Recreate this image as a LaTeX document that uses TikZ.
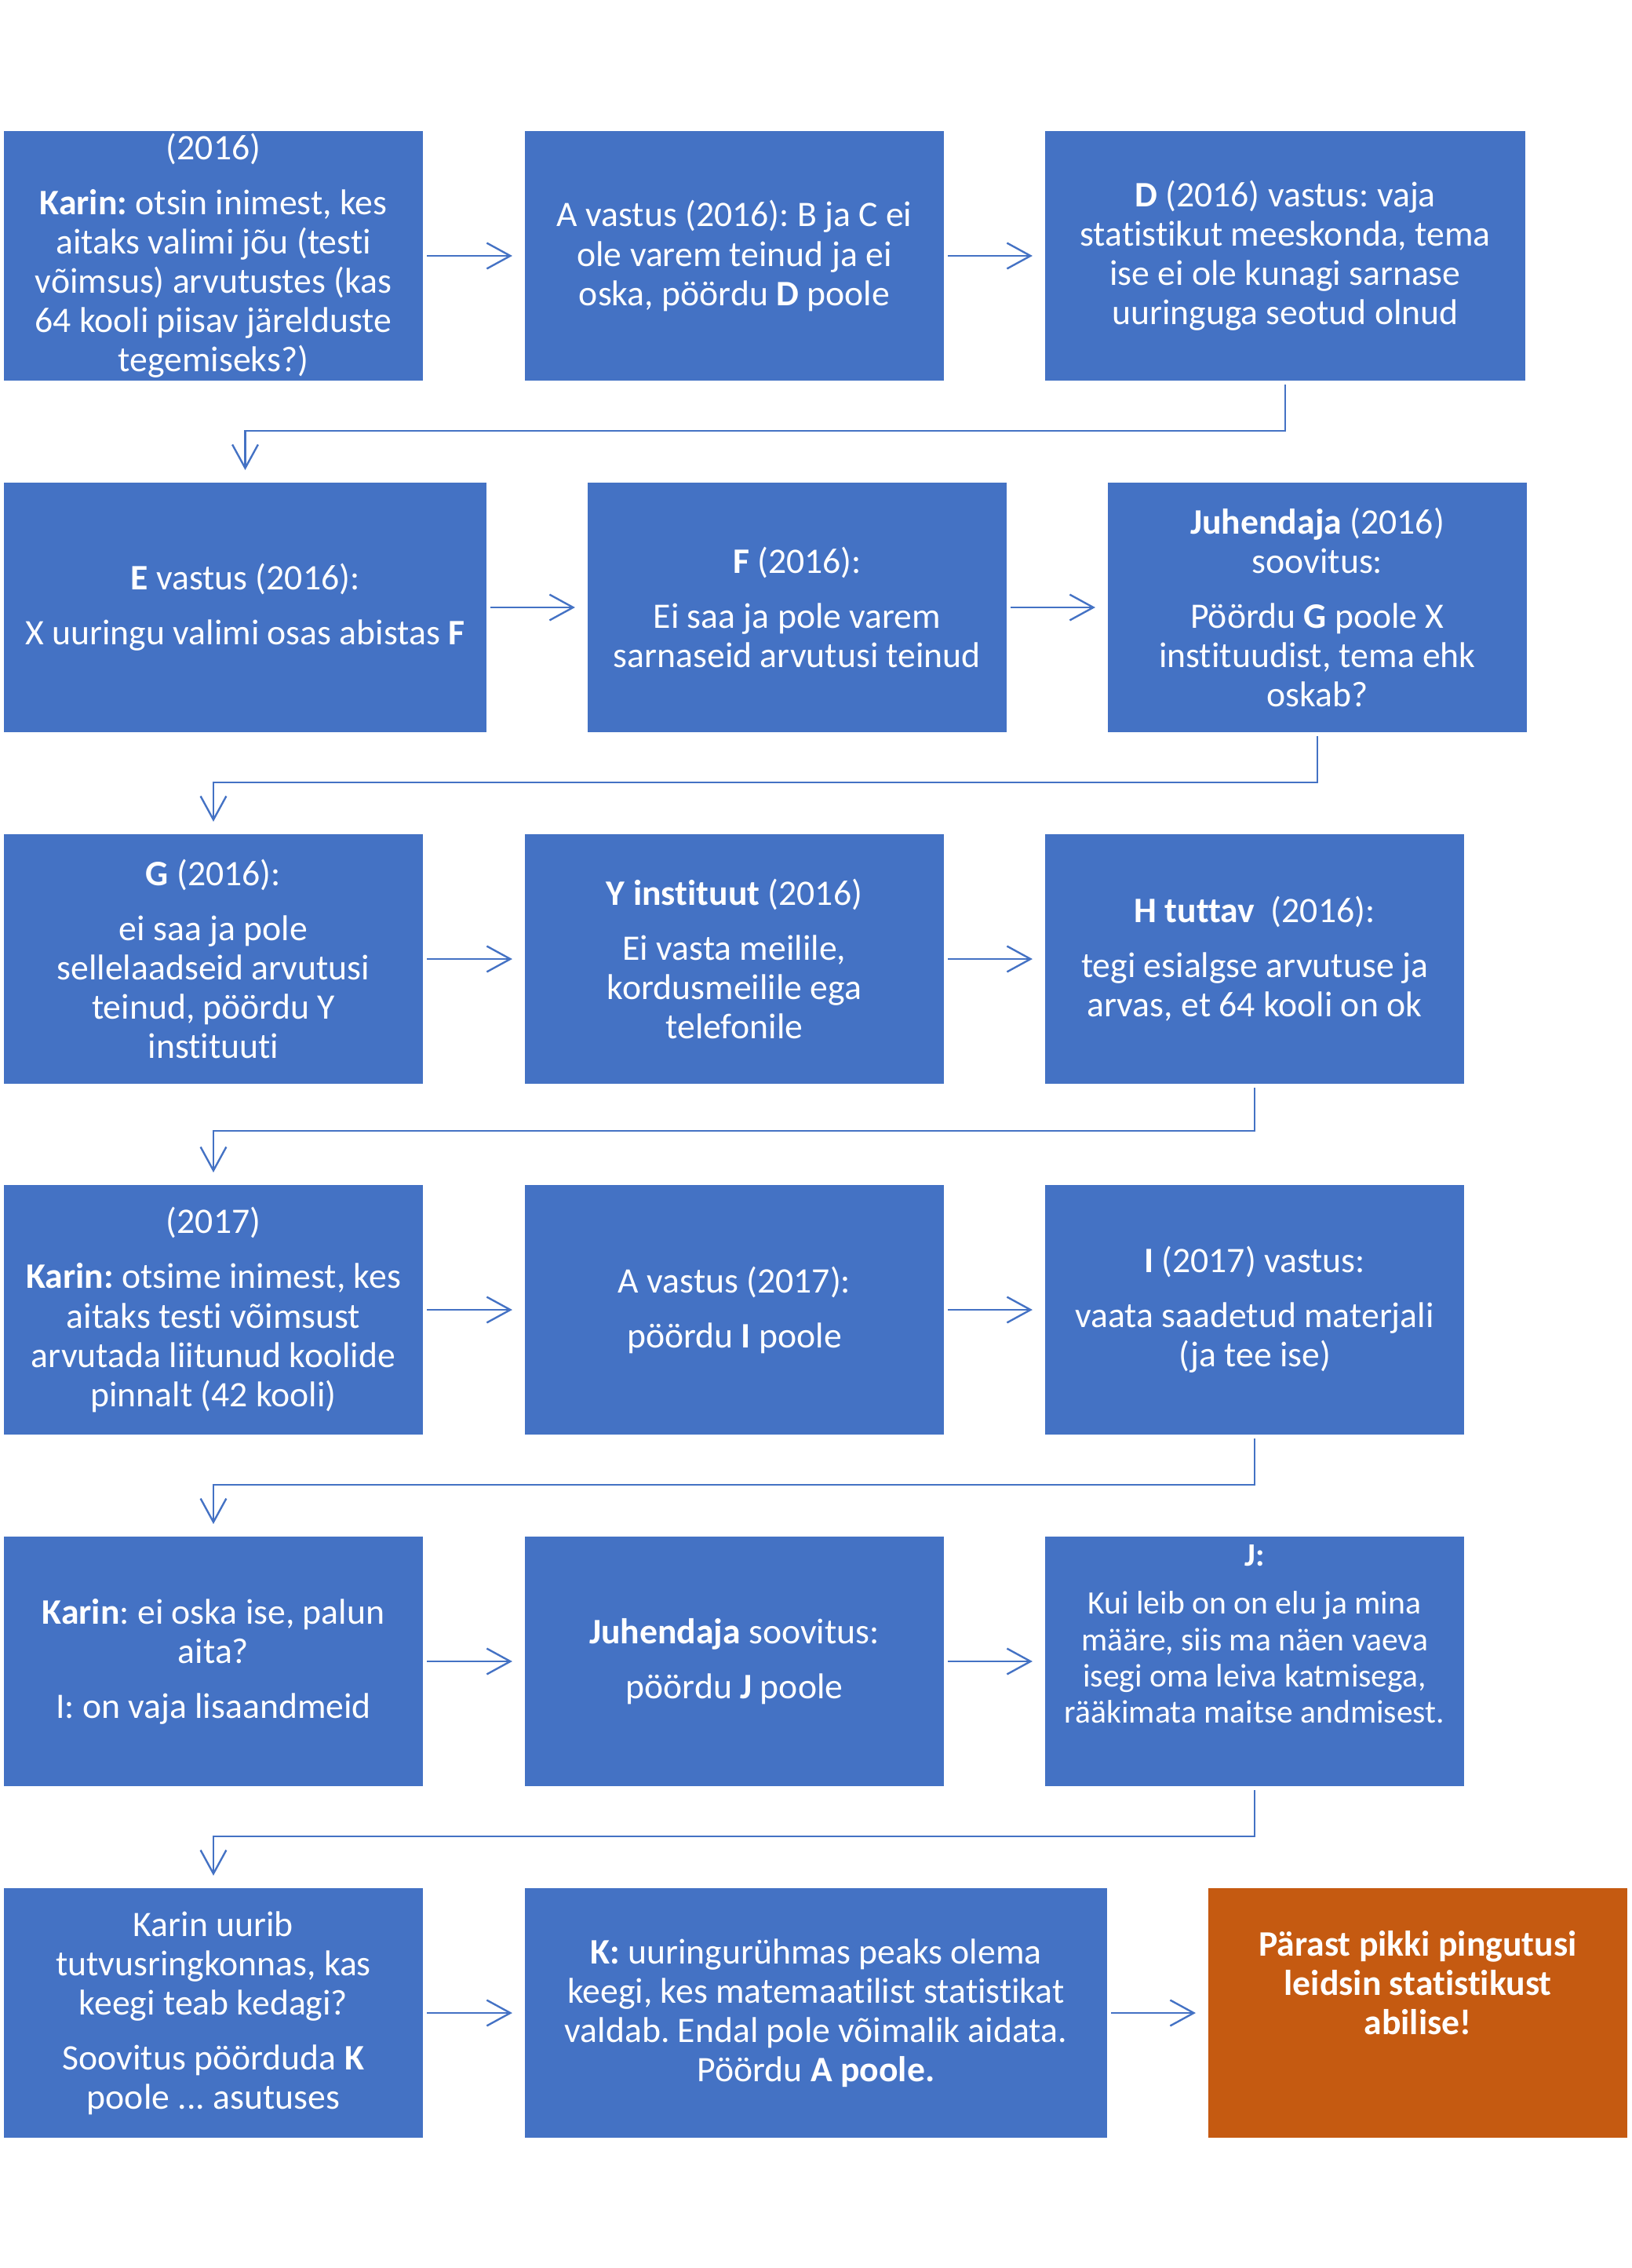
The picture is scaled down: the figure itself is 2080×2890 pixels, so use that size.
\documentclass[tikz,border=0pt]{standalone}
\usepackage{fontspec}
\setmainfont{Carlito}[Ligatures=NoCommon]
\usetikzlibrary{arrows.meta}
\definecolor{boxblue}{HTML}{4472C4}
\definecolor{boxorange}{HTML}{C55A11}
\tikzset{
    stepbox/.style = {fill=boxblue, text=white, rectangle, align=center, inner sep=0pt, outer sep=0pt, minimum width=6.675cm, minimum height=3.975cm, font=\fontsize{16.25pt}{17.8pt}\selectfont},
    endbox/.style = {stepbox, fill=boxorange, font=\fontsize{16.25pt}{17.8pt}\selectfont\bfseries},
    flow/.style = {draw=boxblue, line width=0.85pt, -{Straight Barb[length=0.375cm, width=0.41cm]}, shorten <=0.0625cm, shorten >=0.2cm},
}
\newcommand{\gap}{\\[0.25cm]}
\frenchspacing

\begin{document}
\begin{tikzpicture}[x=0.0125cm, y=-0.0125cm]
\useasboundingbox (0,0) rectangle (2080,2890);

\node[stepbox] (a1) at (272,326) {(2016)\gap
    \textbf{Karin:} otsin inimest, kes\\ aitaks valimi jõu (testi\\ võimsus) arvutustes (kas\\ 64 kooli piisav järelduste\\ tegemiseks?)};
\node[stepbox] (a2) at (936,326) {A vastus (2016): B ja C ei\\ ole varem teinud ja ei\\ oska, pöördu \textbf{D} poole};
\node[stepbox, minimum width=7.65cm] (a3) at (1638,326) {\textbf{D} (2016) vastus: vaja\\ statistikut meeskonda, tema\\ ise ei ole kunagi sarnase\\ uuringuga seotud olnud};

\node[stepbox, minimum width=7.6875cm] (b1) at (312.5,774) {\textbf{E} vastus (2016):\gap X uuringu valimi osas abistas \textbf{F}};
\node[stepbox] (b2) at (1016,774) {\textbf{F} (2016):\gap Ei saa ja pole varem\\ sarnaseid arvutusi teinud};
\node[stepbox] (b3) at (1679,774) {\textbf{Juhendaja} (2016)\\ soovitus:\gap Pöördu \textbf{G} poole X\\ instituudist, tema ehk\\ oskab?};

\node[stepbox] (c1) at (272,1222) {\textbf{G} (2016):\gap ei saa ja pole\\ sellelaadseid arvutusi\\ teinud, pöördu Y\\ instituuti};
\node[stepbox] (c2) at (936,1222) {\textbf{Y instituut} (2016)\gap Ei vasta meilile,\\ kordusmeilile ega\\ telefonile};
\node[stepbox] (c3) at (1599,1222) {\textbf{H tuttav}\ \ (2016):\gap tegi esialgse arvutuse ja\\ arvas, et 64 kooli on ok};

\node[stepbox] (d1) at (272,1669) {(2017)\gap \textbf{Karin:} otsime inimest, kes\\ aitaks testi võimsust\\ arvutada liitunud koolide\\ pinnalt (42 kooli)};
\node[stepbox] (d2) at (936,1669) {A vastus (2017):\gap pöördu \textbf{I} poole};
\node[stepbox] (d3) at (1599,1669) {\textbf{I} (2017) vastus:\gap vaata saadetud materjali\\ (ja tee ise)};

\node[stepbox] (e1) at (272,2117) {\textbf{Karin}: ei oska ise, palun\\ aita?\gap I: on vaja lisaandmeid};
\node[stepbox] (e2) at (936,2117) {\textbf{Juhendaja} soovitus:\gap pöördu \textbf{J} poole};
\node[stepbox, font=\fontsize{14.8pt}{16.4pt}\selectfont] (e3) at (1599,2117) {\textbf{J:}\\[0.19cm] Kui leib on on elu ja mina\\ määre, siis ma näen vaeva\\ isegi oma leiva katmisega,\\ rääkimata maitse andmisest.\\[0.3cm]\mbox{}};

\node[stepbox] (f1) at (272,2565) {Karin uurib\\ tutvusringkonnas, kas\\ keegi teab kedagi?\gap Soovitus pöörduda \textbf{K}\\ poole ... asutuses};
\node[stepbox, minimum width=9.275cm] (f2) at (1040,2565) {\textbf{K:} uuringurühmas peaks olema\\ keegi, kes matemaatilist statistikat\\ valdab. Endal pole võimalik aidata.\\ Pöördu \textbf{A poole.}};
\node[endbox] (f3) at (1807,2565) {Pärast pikki pingutusi\\ leidsin statistikust\\ abilise!\\[0.33cm]\mbox{}};

\draw[flow] (a1) -- (a2);
\draw[flow] (a2) -- (a3);
\draw[flow] (a3.south) -- ++(0,64) -| (b1.north);
\draw[flow] (b1) -- (b2);
\draw[flow] (b2) -- (b3);
\draw[flow] (b3.south) -- ++(0,64) -| (c1.north);
\draw[flow] (c1) -- (c2);
\draw[flow] (c2) -- (c3);
\draw[flow] (c3.south) -- ++(0,60) -| (d1.north);
\draw[flow] (d1) -- (d2);
\draw[flow] (d2) -- (d3);
\draw[flow] (d3.south) -- ++(0,64) -| (e1.north);
\draw[flow] (e1) -- (e2);
\draw[flow] (e2) -- (e3);
\draw[flow] (e3.south) -- ++(0,64) -| (f1.north);
\draw[flow] (f1) -- (f2);
\draw[flow] (f2) -- (f3);
\end{tikzpicture}
\end{document}
